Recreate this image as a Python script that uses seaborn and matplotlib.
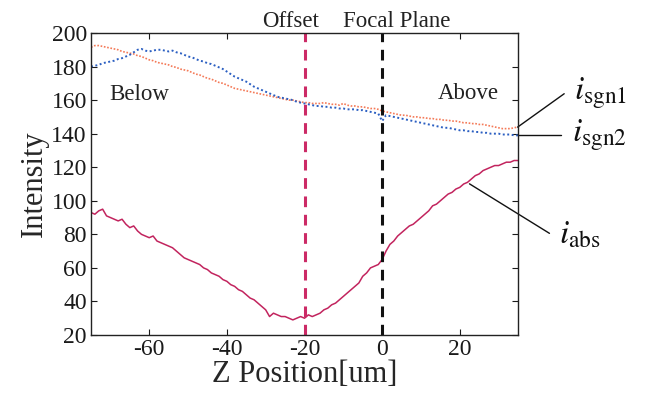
import numpy as np
import pandas as pd
import matplotlib
matplotlib.use("Agg")
import matplotlib.pyplot as plt
import seaborn as sns

# ---- data (1 um step) ----
z_pos = list(range(-75, 36))

i_sgn1 = [
    191.5, 192.5, 192.5, 192, 191.5, 191, 190.5, 190, 189, 188.5,
    188, 187.5, 186.5, 186, 185, 184, 183.5, 182.5, 182, 181.5,
    181, 180, 179.5, 178.5, 178, 177.5, 176.5, 175.5, 175, 174,
    173, 172.5, 171.5, 170.5, 170, 169, 168, 167, 166.5, 166,
    165.5, 165, 164.5, 164, 163.5, 163, 162.5, 162, 161.5, 161,
    160.5, 160, 160, 159.5, 159, 158.5, 158.5, 158, 158, 158,
    158.5, 158, 157.5, 157.5, 157, 158, 157, 156.5, 156.5, 156,
    156, 155.5, 155, 155, 154.5, 153.5, 153, 152.5, 152, 151.5,
    151, 151, 150.5, 150, 150, 149.5, 149.5, 149, 149, 148.5,
    148.5, 148, 148, 147.5, 147.5, 147, 146.5, 146.5, 146, 146,
    145.5, 145.5, 145, 144.5, 144, 143.5, 143, 143, 143, 143.5,
    144,
]

i_sgn2 = [
    180, 180.5, 181, 182, 182.5, 183, 183.5, 184.5, 185, 186,
    187, 188.5, 190, 190.5, 189.5, 189, 189.5, 190, 190, 189.5,
    189, 189.5, 188.5, 188, 187, 186, 185.5, 184.5, 183.5, 183,
    182, 181.5, 180.5, 179.5, 178.5, 177, 175.5, 174, 173, 172,
    171, 169.5, 168, 167, 166, 165, 164, 163, 162, 161.5,
    161, 160.5, 160, 159, 158.5, 158, 157.5, 157, 156.5, 156.5,
    156, 156, 155.5, 155.5, 155, 155, 154.5, 154.5, 154.5, 154,
    154, 153.5, 153, 152.5, 152, 147.5, 151, 150.5, 150, 149.5,
    149, 148.5, 148, 147.5, 147, 146.5, 146, 145.5, 145, 144.5,
    144, 143.5, 143.5, 143, 142.5, 142, 142, 141.5, 141.5, 141,
    141, 140.5, 140.5, 140, 140, 140, 139.5, 139.5, 139.5, 139,
    139,
]

i_abs = [
    93, 92, 94, 95, 91, 90, 89, 88, 89, 86,
    84, 85, 82, 80, 79, 78, 79, 76, 75, 74,
    73, 72, 70, 68, 66, 65, 64, 63, 62, 60,
    59, 57, 56, 55, 53, 52, 50, 49, 47, 46,
    44, 42, 41, 39, 37, 35, 31, 33, 32, 31,
    31, 30, 29, 30, 31, 30, 32, 31, 32, 33,
    35, 36, 38, 39, 41, 43, 45, 47, 49, 51,
    55, 57, 60, 61, 62, 65, 70, 74, 76, 79,
    81, 83, 85, 86, 88, 90, 92, 94, 97, 98,
    100, 102, 104, 105, 107, 108, 110, 111, 113, 115,
    116, 118, 119, 120, 121, 121, 122, 123, 123, 124,
    124,
]

offset_z = -20
focal_z = 0
x_ticks = [-60, -40, -20, 0, 20]
y_ticks = [20, 40, 60, 80, 100, 120, 140, 160, 180, 200]

df = pd.DataFrame({"z": z_pos, "sgn1": i_sgn1, "sgn2": i_sgn2, "abs": i_abs})

# ---- style ----
sns.set_style("ticks")
plt.rcParams["font.family"] = ["Liberation Serif", "DejaVu Serif"]
plt.rcParams["mathtext.fontset"] = "stix"
plt.rcParams["axes.unicode_minus"] = False

fig = plt.figure(figsize=(6.48, 3.97), dpi=100)
ax = fig.add_axes([91 / 648, 1 - 335 / 397, (518 - 91) / 648, (335 - 33) / 397])

c_orange = "#f47a58"
c_blue = "#2b5fc2"
c_red = "#c2245e"

sns.lineplot(data=df, x="z", y="sgn1", ax=ax, color=c_orange, lw=1.2,
             linestyle=(0, (1, 1)))
sns.lineplot(data=df, x="z", y="sgn2", ax=ax, color=c_blue, lw=1.4,
             linestyle=(0, (1, 1.3)))
sns.lineplot(data=df, x="z", y="abs", ax=ax, color=c_red, lw=1.1)

ax.axvline(offset_z, color="#cc2a66", lw=2.2, dashes=(3.5, 2.5))
ax.axvline(focal_z, color="#111111", lw=2.2, dashes=(3.5, 2.5))

ax.set_xlim(-75, 35)
ax.set_ylim(20, 200)
ax.set_xticks(x_ticks)
ax.set_yticks(y_ticks)
ax.tick_params(direction="in", length=4, width=0.8, labelsize=17,
               top=True, right=True, pad=3, colors="#1a1a1a")
for s in ax.spines.values():
    s.set_linewidth(1.0)
    s.set_color("#222222")

ax.set_xlabel("Z Position[um]", fontsize=22, labelpad=0)
ax.set_ylabel("Intensity", fontsize=22, labelpad=2)

tfs = 16.5
ax.text(-23.6, 203.5, "Offset", ha="center", va="baseline", fontsize=tfs,
        color="#222222", clip_on=False)
ax.text(3.8, 203.5, "Focal Plane", ha="center", va="baseline", fontsize=tfs,
        color="#222222", clip_on=False)
ax.text(-70.3, 159.8, "Below", ha="left", va="baseline", fontsize=tfs,
        color="#222222")
ax.text(14.3, 160.8, "Above", ha="left", va="baseline", fontsize=tfs,
        color="#222222")

# legend-like annotations
ax.plot([34.9, 46.9], [143.9, 163.8], color="#111111", lw=1.0, clip_on=False)
ax.plot([34.9, 46.2], [139.3, 139.3], color="#111111", lw=1.0, clip_on=False)
ax.plot([22.5, 43.1], [110.1, 80.6], color="#111111", lw=1.0, clip_on=False)

lfs = 24
ax.text(49.5, 160.4, r"$i_{\mathrm{sgn1}}$", fontsize=lfs, ha="left",
        va="baseline", clip_on=False, color="#111111")
ax.text(49.0, 135.5, r"$i_{\mathrm{sgn2}}$", fontsize=lfs, ha="left",
        va="baseline", clip_on=False, color="#111111")
ax.text(45.5, 74.6, r"$i_{\mathrm{abs}}$", fontsize=lfs, ha="left",
        va="baseline", clip_on=False, color="#111111")

fig.savefig("out.png", dpi=100)
